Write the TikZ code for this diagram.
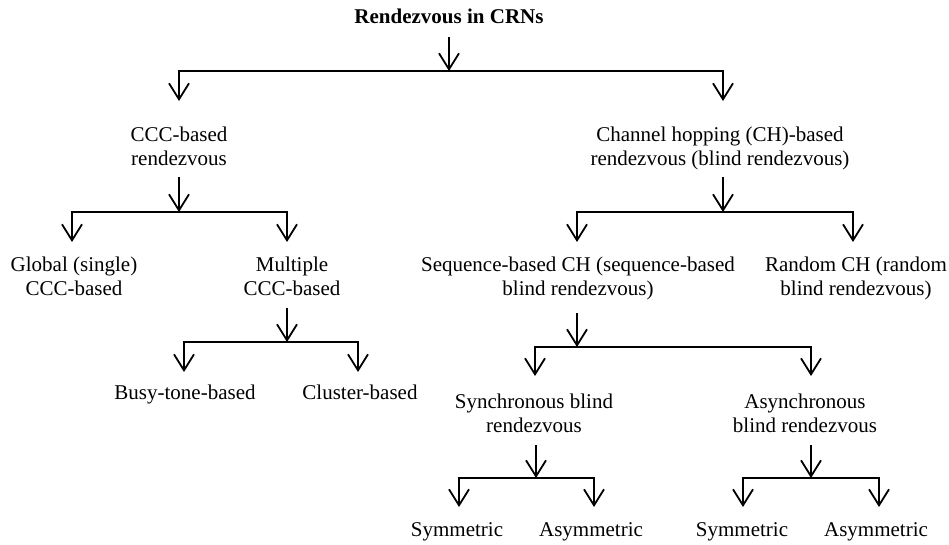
\documentclass[tikz,border=0pt]{standalone}
\usepackage{fontspec}
\setmainfont{Liberation Serif}
\usetikzlibrary{arrows.meta}
\tikzset{
  vee/.tip={Straight Barb[length=16pt,width=20pt]},
  lbl/.style={align=center,inner sep=0pt,anchor=base,font=\fontsize{21}{24}\selectfont},
  dn/.style={line width=1.8pt,-vee},
  fork/.style={line width=1.8pt,line join=miter,vee-vee}
}

\begin{document}
\begin{tikzpicture}[x=1pt,y=-1pt]
\useasboundingbox (0,0) rectangle (949,544);
% labels (base = last line)
\node[lbl,font=\fontsize{21}{24}\selectfont\bfseries] (root) at (449,23) {Rendezvous in CRNs};
\node[lbl] (ccc) at (179,165) {CCC-based\\rendezvous};
\node[lbl] (ch) at (720,165) {Channel hopping (CH)-based\\rendezvous (blind rendezvous)};
\node[lbl] (glob) at (74,295.5) {Global (single)\\CCC-based};
\node[lbl] (mult) at (292,295.5) {Multiple\\CCC-based};
\node[lbl] (seq) at (578,295.5) {Sequence-based CH (sequence-based\\blind rendezvous)};
\node[lbl] (rand) at (856,295.5) {Random CH (random\\blind rendezvous)};
\node[lbl] (busy) at (185,399) {Busy-tone-based};
\node[lbl] (clus) at (360,399) {Cluster-based};
\node[lbl] (sync) at (534,432.5) {Synchronous blind\\rendezvous};
\node[lbl] (async) at (805,432.5) {Asynchronous\\blind rendezvous};
\node[lbl] (sym1) at (457,536) {Symmetric};
\node[lbl] (asym1) at (591,536) {Asymmetric};
\node[lbl] (sym2) at (742,536) {Symmetric};
\node[lbl] (asym2) at (876,536) {Asymmetric};
% arrow ends and junctions
\coordinate (root-out) at (449,37);  \coordinate (root-j) at (449,71);
\coordinate (ccc-in) at (179,101);   \coordinate (ch-in) at (723,101);
\coordinate (ccc-out) at (179,177);  \coordinate (ccc-j) at (179,212);
\coordinate (glob-in) at (72,242);   \coordinate (mult-in) at (287,242);
\coordinate (ch-out) at (723,177);   \coordinate (ch-j) at (723,212);
\coordinate (seq-in) at (577,242);   \coordinate (rand-in) at (853,242);
\coordinate (mult-out) at (287,308); \coordinate (mult-j) at (287,342);
\coordinate (busy-in) at (184,372);  \coordinate (clus-in) at (358,372);
\coordinate (seq-out) at (577,313);  \coordinate (seq-j) at (577,347);
\coordinate (sync-in) at (535,376);  \coordinate (async-in) at (811,376);
\coordinate (sync-out) at (536,445); \coordinate (sync-j) at (536,478);
\coordinate (sym1-in) at (459,507);  \coordinate (asym1-in) at (594,507);
\coordinate (async-out) at (811,445); \coordinate (async-j) at (811,478);
\coordinate (sym2-in) at (743,507);  \coordinate (asym2-in) at (879,507);
% connectors
\draw[dn] (root-out) -- (root-j);
\draw[fork] (ccc-in) |- (root-j) -| (ch-in);
\draw[dn] (ccc-out) -- (ccc-j);
\draw[fork] (glob-in) |- (ccc-j) -| (mult-in);
\draw[dn] (ch-out) -- (ch-j);
\draw[fork] (seq-in) |- (ch-j) -| (rand-in);
\draw[dn] (mult-out) -- (mult-j);
\draw[fork] (busy-in) |- (mult-j) -| (clus-in);
\draw[dn] (seq-out) -- (seq-j);
\draw[fork] (sync-in) |- (seq-j) -| (async-in);
\draw[dn] (sync-out) -- (sync-j);
\draw[fork] (sym1-in) |- (sync-j) -| (asym1-in);
\draw[dn] (async-out) -- (async-j);
\draw[fork] (sym2-in) |- (async-j) -| (asym2-in);
\end{tikzpicture}
\end{document}
